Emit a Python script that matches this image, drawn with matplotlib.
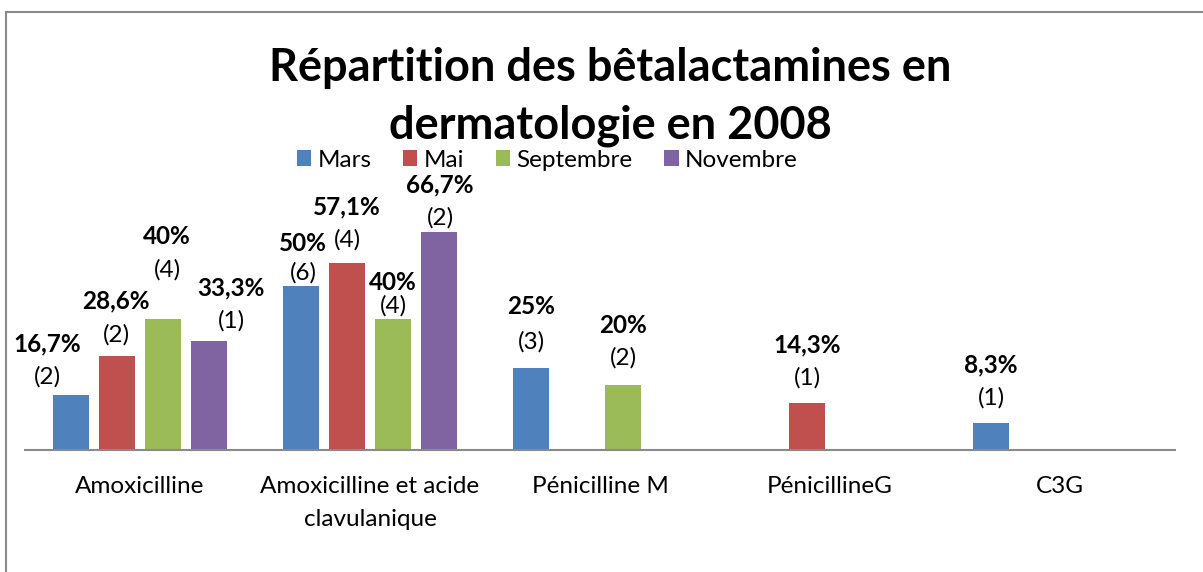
import matplotlib.pyplot as plt
import matplotlib.patches as mpatches
import numpy as np

plt.rcParams["font.family"] = ["Lato", "DejaVu Sans"]

categories = ["Amoxicilline", "Amoxicilline et acide\nclavulanique",
              "Pénicilline M", "PénicillineG", "C3G"]
series = ["Mars", "Mai", "Septembre", "Novembre"]

# percentages and patient counts per month
mars = [16.7, 50, 25, 0, 8.3]
mai = [28.6, 57.1, 0, 14.3, 0]
septembre = [40, 40, 20, 0, 0]
novembre = [33.3, 66.7, 0, 0, 0]

mars_n = [2, 6, 3, 0, 1]
mai_n = [2, 4, 0, 1, 0]
septembre_n = [4, 4, 2, 0, 0]
novembre_n = [1, 2, 0, 0, 0]

values = [mars, mai, septembre, novembre]
counts = [mars_n, mai_n, septembre_n, novembre_n]
colors = ["#4F81BD", "#C0504D", "#9BBB59", "#8064A2"]

# label nudges in pixels: (dx, dy of count line, gap to percent line)
nudge = {
    (0, 0): (-24, 18, 33), (1, 0): (-1, 22, 33), (2, 0): (4, 49, 33), (3, 0): (22, 20, 33),
    (0, 1): (2, 13, 30), (1, 1): (0, 23, 33), (2, 1): (0, 13, 24), (3, 1): (1, 14, 33),
    (0, 2): (0, 26, 36), (2, 2): (0, 27, 32),
    (1, 3): (0, 25, 33),
    (0, 4): (0, 25, 33),
}

W, H = 1203, 572
FS = 17.5
fig = plt.figure(figsize=(W / 100, H / 100), dpi=100)

# outer chart frame, clipped by the image on the right and bottom
fig.patches.append(mpatches.Rectangle((6 / W, -0.1), 1.2, 1 - 12 / H + 0.1,
                                      transform=fig.transFigure, fill=False,
                                      edgecolor="#8a8a8a", linewidth=1.5))

ax = fig.add_axes([25 / W, 1 - 450 / H, 1150 / W, 262 / H])
x = np.arange(len(categories))
step, width = 0.2, 0.16

for i, (vals, ns, col, name) in enumerate(zip(values, counts, colors, series)):
    pos = x + (i - 1.5) * step
    ax.bar(pos, vals, width, color=col, label=name)
    for j, (p, v, n) in enumerate(zip(pos, vals, ns)):
        if v == 0:
            continue
        dx, dy, gap = nudge[(i, j)]
        ax.annotate(f"({n})", (p, v), xytext=(dx, dy), textcoords="offset pixels",
                    ha="center", va="center", fontsize=FS)
        ax.annotate(f"{v:g}%".replace(".", ","), (p, v), xytext=(dx, dy + gap),
                    textcoords="offset pixels", ha="center", va="center",
                    fontsize=FS, fontweight="bold")

ax.set_xlim(-0.5, len(categories) - 0.5)
ax.set_ylim(0, 80)
ax.set_xticks(x)
ax.set_xticklabels(categories, fontsize=FS, linespacing=1.75)
ax.tick_params(axis="x", length=0, pad=18.5)
ax.set_yticks([])
for s in ["top", "left", "right"]:
    ax.spines[s].set_visible(False)
ax.spines["bottom"].set_color("#8a8a8a")
ax.spines["bottom"].set_linewidth(1.5)
ax.patch.set_alpha(0)

fig.text(610 / W, 1 - 97 / H, "Répartition des bêtalactamines en\ndermatologie en 2008",
         ha="center", va="center", fontsize=32.5, fontweight="bold", linespacing=1.45)

fig.legend(loc="center", bbox_to_anchor=(547 / W, 1 - 160 / H), ncol=4, frameon=False,
           fontsize=FS, handlelength=0.6, handleheight=0.6, handletextpad=0.25,
           columnspacing=1.3, borderaxespad=0)

fig.savefig("out.png", dpi=100, facecolor="white")
